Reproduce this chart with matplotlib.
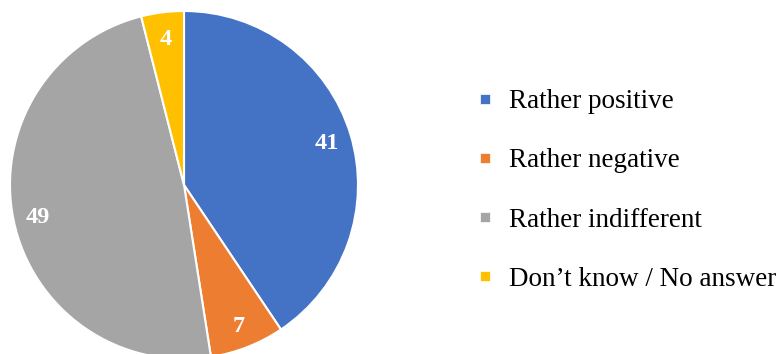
import matplotlib
matplotlib.use("Agg")
import matplotlib.pyplot as plt
from matplotlib.lines import Line2D

categories = ["Rather positive", "Rather negative", "Rather indifferent", "Don\u2019t know / No answer"]
values = [41, 7, 49, 4]
colors = ["#4472C4", "#ED7D31", "#A5A5A5", "#FFC000"]

plt.rcParams["font.family"] = ["Liberation Serif", "DejaVu Serif"]

W, H = 780, 354
fig = plt.figure(figsize=(W / 100, H / 100), dpi=100)

# pie axes: centre (184, 185) px from top-left, radius 174 px
cx, cy, r = 184, 185, 174
ax = fig.add_axes([(cx - r) / W, (H - cy - r) / H, 2 * r / W, 2 * r / H])
wedges, texts = ax.pie(
    values,
    colors=colors,
    startangle=90,
    counterclock=False,
    radius=1,
    labels=[str(v) for v in values],
    labeldistance=0.86,
    wedgeprops=dict(edgecolor="white", linewidth=1.5),
    textprops=dict(color="white", fontsize=17.5, fontweight="bold"),
)
for t in texts:
    t.set_horizontalalignment("center")
    t.set_verticalalignment("center_baseline")
ax.set_xlim(-1, 1)
ax.set_ylim(-1, 1)
ax.set_aspect("equal")
ax.axis("off")

handles = [Line2D([], [], marker="s", linestyle="none", markersize=6.5,
                  markerfacecolor=c, markeredgecolor="white", markeredgewidth=0.5)
           for c in colors]
fig.legend(handles, categories, loc="upper left",
           bbox_to_anchor=(474 / W, (H - 89) / H),
           frameon=False, fontsize=19.5, labelspacing=1.265,
           handlelength=0.8, handletextpad=0.5, borderpad=0, borderaxespad=0)

fig.savefig("out.png", dpi=100, facecolor="white")
